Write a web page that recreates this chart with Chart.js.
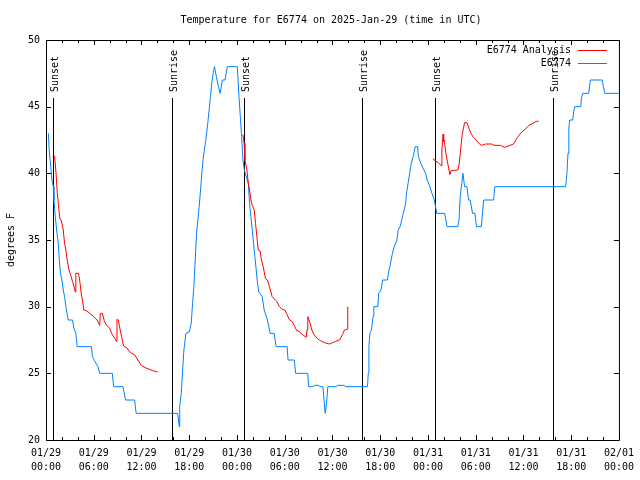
<!DOCTYPE html>
<html>
<head>
<meta charset="utf-8">
<script src="https://cdn.jsdelivr.net/npm/chart.js@4/dist/chart.umd.min.js"></script>
<style>
  body { margin: 0; background: #fff; }
  canvas { display: block; }
</style>
</head>
<body>
<canvas id="tempChart" width="640" height="480"></canvas>
<script>
// hours since 2025-01-29 00:00 UTC
const obsHours = [0.3, 0.4, 0.58, 0.75, 0.92, 1.0, 1.17, 1.33, 1.54, 1.67, 1.83, 2.0, 2.17, 2.33, 2.5, 2.79, 3.33, 3.5, 3.75, 3.92,
  5.71, 5.83, 6.13, 6.54, 6.75, 8.33, 8.5, 9.67, 10.0, 11.13, 11.33, 16.54, 16.75, 16.8, 17.0, 17.17, 17.33, 17.58, 18.0, 18.25,
  18.42, 18.58, 18.75, 18.92, 19.08, 19.25, 19.42, 19.58, 19.75, 20.08, 20.33, 20.5, 20.67, 20.83, 21.0, 21.17, 21.41, 21.67, 21.88, 22.17,
  22.5, 22.79, 24.04, 24.25, 24.42, 24.58, 24.75, 24.92, 25.17, 25.42, 25.58, 25.75, 25.92, 26.08, 26.25, 26.42, 26.58, 26.75, 27.17, 27.42,
  27.83, 28.17, 28.67, 28.92, 30.3, 30.42, 31.2, 31.37, 32.9, 33.0, 33.6, 33.7, 34.3, 34.4, 34.8, 34.97, 35.08, 35.25, 35.42, 36.5,
  36.6, 37.5, 37.6, 40.4, 40.5, 40.58, 40.7, 40.9, 41.1, 41.2, 41.7, 41.8, 42.1, 42.3, 42.9, 43.1, 43.25, 43.5, 43.7, 44.1,
  44.25, 44.5, 44.7, 44.9, 45.2, 45.3, 45.5, 45.7, 45.9, 46.2, 46.4, 46.7, 46.8, 47.1, 47.7, 47.9, 48.25, 48.5, 48.8, 49.1,
  50.1, 50.4, 51.75, 51.9, 52.05, 52.25, 52.4, 52.6, 52.9, 53.1, 53.3, 53.6, 53.9, 54.1, 54.7, 54.85, 55.0, 56.25, 56.4, 65.3,
  65.45, 65.6, 65.7, 65.8, 66.2, 66.3, 66.45, 67.2, 67.3, 67.45, 68.2, 68.4, 69.9, 70.05, 70.2, 72.0];
const obsTemps = [43.0, 41.75, 40.6, 39.5, 39.0, 38.0, 36.75, 35.75, 34.75, 33.5, 32.5, 32.0, 31.25, 30.75, 30.0, 29.0, 29.0, 28.4, 28.0, 27.0,
  27.0, 26.25, 25.9, 25.5, 25.0, 25.0, 24.0, 24.0, 23.0, 23.0, 22.0, 22.0, 21.0, 22.5, 23.5, 25.25, 26.75, 28.0, 28.1, 28.75,
  30.25, 31.5, 33.5, 35.5, 36.5, 37.5, 38.75, 40.0, 41.1, 42.5, 43.75, 44.75, 45.75, 46.75, 47.5, 48.0, 47.25, 46.5, 46.0, 47.0,
  47.0, 48.0, 48.0, 45.75, 44.25, 42.75, 41.0, 40.25, 39.75, 39.25, 37.75, 36.75, 35.75, 34.75, 33.75, 32.75, 31.75, 31.1, 30.75, 29.75,
  29.0, 28.0, 28.0, 27.0, 27.0, 26.0, 26.0, 25.0, 25.0, 24.0, 24.0, 24.1, 24.1, 24.0, 24.0, 22.75, 22.0, 22.75, 24.0, 24.0,
  24.1, 24.1, 24.0, 24.0, 25.0, 27.0, 28.0, 28.25, 29.25, 30.0, 30.0, 31.0, 31.25, 32.0, 32.0, 32.75, 33.1, 33.9, 34.4, 35.0,
  35.75, 36.0, 36.5, 37.0, 37.75, 38.5, 39.25, 40.0, 40.75, 41.4, 42.0, 42.0, 41.25, 40.75, 40.0, 39.5, 39.0, 38.5, 38.0, 37.0,
  37.0, 36.0, 36.0, 36.5, 38.25, 39.25, 40.0, 39.0, 39.0, 38.0, 38.0, 37.0, 37.0, 36.0, 36.0, 37.0, 38.0, 38.0, 39.0, 39.0,
  39.9, 41.5, 43.25, 44.0, 44.0, 44.6, 45.0, 45.0, 45.7, 46.0, 46.0, 47.0, 47.0, 46.5, 46.0, 46.0];

// null entries break the analysis line between nights
const analysisHours = [0.83, 1.08, 1.25, 1.42, 1.54, 1.75, 1.92, 2.17, 2.33, 2.5, 2.67, 2.83, 3.08, 3.33, 3.58, 3.67, 3.75, 4.08, 4.25, 4.42,
  4.58, 4.75, 5.08, 5.5, 5.92, 6.42, 6.75, 6.83, 7.08, 7.33, 7.58, 8.0, 8.25, 8.67, 8.83, 8.92, 9.08, 9.33, 9.5, 9.75,
  10.17, 10.58, 11.13, 11.54, 11.96, 12.58, 13.42, 14.04, 20,
  24.75, 24.9, 25.0, 25.25, 25.42, 25.58, 25.75, 25.92, 26.17, 26.33, 26.5, 26.67, 26.9, 27.08, 27.33, 27.58, 27.83, 28.08, 28.42, 28.83,
  29.0, 29.33, 29.67, 30.0, 30.3, 30.6, 30.9, 31.2, 31.5, 31.8, 32.25, 32.7, 32.8, 32.9, 33.2, 33.4, 33.7, 34.1, 34.5, 35.0,
  35.6, 36.0, 36.4, 36.9, 37.25, 37.5, 37.9, 37.92, 44,
  48.6, 49.0, 49.3, 49.7, 49.75, 49.9, 49.97, 50.05, 50.25, 50.4, 50.6, 50.75, 50.9, 51.75, 51.9, 52.1, 52.3, 52.6, 52.9, 53.2,
  53.4, 53.7, 54.0, 54.3, 54.7, 55.25, 56.0, 56.3, 57.1, 57.6, 58.1, 58.75, 59.25, 59.7, 60.1, 60.7, 61.2, 61.6, 61.9];
const analysisTemps = [41.3, 41.3, 40.1, 38.5, 37.75, 36.55, 36.5, 35.75, 34.75, 34.25, 33.5, 32.9, 32.4, 31.9, 31.4, 31.1, 32.5, 32.5, 31.9, 31.0,
  30.5, 29.75, 29.7, 29.5, 29.3, 29.0, 28.6, 29.5, 29.5, 28.95, 28.6, 28.4, 28.0, 27.6, 27.4, 29.05, 29.0, 28.25, 27.75, 27.05,
  26.9, 26.55, 26.4, 26.0, 25.6, 25.4, 25.2, 25.1, null,
  42.9, 42.25, 41.0, 40.25, 39.25, 38.75, 38.0, 37.6, 37.25, 36.25, 35.25, 34.25, 34.2, 33.5, 32.9, 32.1, 32.0, 31.5, 30.75, 30.5,
  30.4, 30.0, 29.8, 29.75, 29.4, 29.0, 28.9, 28.6, 28.2, 28.15, 27.9, 27.7, 28.25, 29.25, 28.75, 28.25, 27.9, 27.6, 27.45, 27.3,
  27.2, 27.3, 27.4, 27.5, 27.9, 28.25, 28.3, 30.0, null,
  41.1, 40.9, 40.8, 40.55, 41.75, 42.95, 42.4, 42.5, 41.5, 41.0, 40.4, 39.9, 40.2, 40.25, 40.6, 41.75, 42.9, 43.8, 43.8, 43.3,
  43.0, 42.7, 42.55, 42.3, 42.1, 42.2, 42.2, 42.1, 42.1, 41.95, 42.05, 42.2, 42.7, 43.05, 43.25, 43.6, 43.75, 43.9, 43.9];

const sunHours = [0.92, 15.8, 24.92, 39.68, 48.92, 63.67];
const sunLabels = ['Sunset', 'Sunrise', 'Sunset', 'Sunrise', 'Sunset', 'Sunrise'];

const xTickDates = ['01/29', '01/29', '01/29', '01/29', '01/30', '01/30', '01/30', '01/30', '01/31', '01/31', '01/31', '01/31', '02/01'];
const xTickTimes = ['00:00', '06:00', '12:00', '18:00', '00:00', '06:00', '12:00', '18:00', '00:00', '06:00', '12:00', '18:00', '00:00'];

const FONT = '"DejaVu Sans Mono", "Liberation Mono", monospace';

const toPoints = (xs, ys) => xs.map((x, i) => ({ x: x, y: ys[i] }));

// frame, inward ticks, sun lines, legend and title, gnuplot style
const decor = {
  id: 'decor',
  beforeDatasetsDraw(chart) {
    const { ctx, chartArea: a, scales } = chart;
    ctx.save();
    ctx.strokeStyle = '#000';
    ctx.lineWidth = 1;
    ctx.fillStyle = '#000';
    ctx.font = '10px ' + FONT;
    sunHours.forEach((h, i) => {
      const x = Math.round(scales.x.getPixelForValue(h)) + 0.5;
      ctx.beginPath();
      ctx.moveTo(x, a.top + 58);
      ctx.lineTo(x, a.bottom);
      ctx.stroke();
      ctx.save();
      ctx.translate(x + 1.5, a.top + 52);
      ctx.rotate(-Math.PI / 2);
      ctx.textAlign = 'left';
      ctx.textBaseline = 'middle';
      ctx.fillText(sunLabels[i], 0, 0);
      ctx.restore();
    });
    ctx.restore();
  },
  afterDatasetsDraw(chart) {
    const { ctx, chartArea: a, scales } = chart;
    ctx.save();
    ctx.strokeStyle = '#000';
    ctx.lineWidth = 1;
    ctx.beginPath();
    ctx.rect(a.left + 0.5, a.top + 0.5, a.right - a.left, a.bottom - a.top);
    ctx.stroke();

    ctx.beginPath();
    for (let v = 20; v <= 50; v += 5) {
      const y = Math.round(scales.y.getPixelForValue(v)) + 0.5;
      ctx.moveTo(a.left, y); ctx.lineTo(a.left + 5, y);
      ctx.moveTo(a.right, y); ctx.lineTo(a.right - 5, y);
    }
    for (let h = 0; h <= 72; h += 2) {
      const x = Math.round(scales.x.getPixelForValue(h)) + 0.5;
      const len = h % 6 === 0 ? 5 : 3;
      ctx.moveTo(x, a.bottom); ctx.lineTo(x, a.bottom - len);
      ctx.moveTo(x, a.top); ctx.lineTo(x, a.top + len);
    }
    ctx.stroke();

    // legend
    ctx.font = '10px ' + FONT;
    ctx.textAlign = 'right';
    ctx.textBaseline = 'middle';
    chart.data.datasets.forEach((ds, i) => {
      const y = a.top + 10 + i * 13;
      ctx.fillStyle = '#000';
      ctx.fillText(ds.label, a.right - 48, y);
      ctx.strokeStyle = ds.borderColor;
      ctx.beginPath();
      ctx.moveTo(a.right - 41, y + 0.5);
      ctx.lineTo(a.right - 12, y + 0.5);
      ctx.stroke();
    });

    // title
    ctx.fillStyle = '#000';
    ctx.textAlign = 'center';
    ctx.fillText('Temperature for E6774 on 2025-Jan-29 (time in UTC)', 331, 20);
    ctx.restore();
  }
};

new Chart(document.getElementById('tempChart'), {
  type: 'line',
  data: {
    datasets: [{
      label: 'E6774 Analysis',
      data: toPoints(analysisHours, analysisTemps),
      borderColor: '#ff0000',
      borderWidth: 1,
      pointRadius: 0,
      tension: 0,
      spanGaps: false
    }, {
      label: 'E6774',
      data: toPoints(obsHours, obsTemps),
      borderColor: '#0080ff',
      borderWidth: 1,
      pointRadius: 0,
      tension: 0
    }]
  },
  options: {
    responsive: false,
    animation: false,
    layout: { padding: { top: 40, right: 18, left: 0, bottom: 0 } },
    plugins: {
      legend: { display: false },
      title: { display: false },
      tooltip: { enabled: false }
    },
    scales: {
      x: {
        type: 'linear',
        min: 0,
        max: 72,
        grid: { display: false, drawTicks: false },
        border: { display: false },
        afterFit: s => { s.height = 40; },
        ticks: {
          stepSize: 6,
          autoSkip: false,
          maxRotation: 0,
          padding: 6,
          color: '#000',
          font: { family: FONT, size: 10, lineHeight: 1.4 },
          callback: v => [xTickDates[v / 6], xTickTimes[v / 6]]
        }
      },
      y: {
        min: 20,
        max: 50,
        grid: { display: false, drawTicks: false },
        border: { display: false },
        afterFit: s => { s.width = 46; },
        ticks: {
          stepSize: 5,
          padding: 6,
          color: '#000',
          font: { family: FONT, size: 10 }
        },
        title: {
          display: true,
          text: 'degrees F',
          color: '#000',
          padding: { top: 5 },
          font: { family: FONT, size: 10 }
        }
      }
    }
  },
  plugins: [decor]
});
</script>
</body>
</html>
